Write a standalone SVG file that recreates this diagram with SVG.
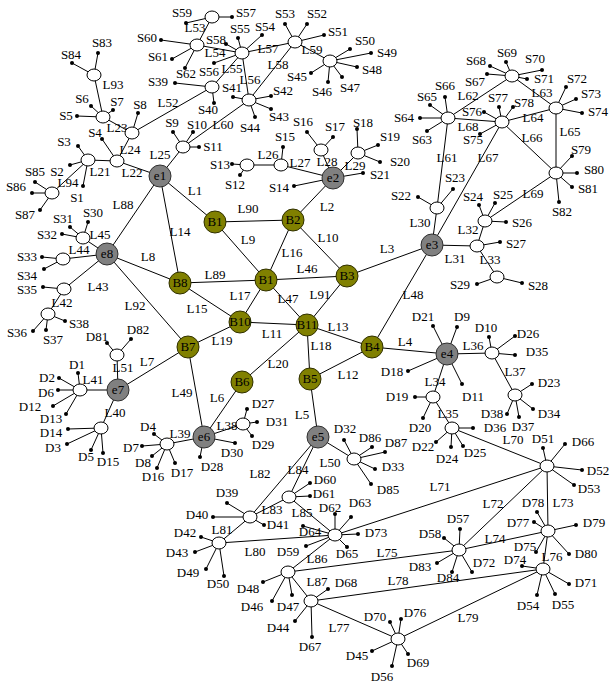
<svg xmlns="http://www.w3.org/2000/svg" width="612" height="686" viewBox="0 0 612 686">
<style>
text{font-family:"Liberation Serif","Times New Roman",serif;font-size:13px;fill:#000;text-anchor:middle}
#connectors line{stroke:#000;stroke-width:1}
.h{fill:#fff;stroke:#000;stroke-width:1}
.d{fill:#000}
.e{fill:#808080;stroke:#303030;stroke-width:1}
.b{fill:#808000;stroke:#303000;stroke-width:1}
</style>
<rect width="612" height="686" fill="#fff"/>
<g id="connectors">
<line x1="160" y1="176" x2="215" y2="222"/><line x1="293" y1="220" x2="333" y2="178"/><line x1="347" y1="276" x2="432" y2="245"/><line x1="372" y1="347" x2="447" y2="354"/><line x1="310" y1="379" x2="318" y2="437"/><line x1="242" y1="382" x2="204" y2="437"/><line x1="188" y1="347" x2="118" y2="390"/><line x1="107" y1="254" x2="180" y2="283"/><line x1="215" y1="222" x2="266" y2="280"/><line x1="293" y1="220" x2="347" y2="276"/><line x1="240" y1="322" x2="307" y2="325"/><line x1="310" y1="379" x2="372" y2="347"/><line x1="307" y1="325" x2="372" y2="347"/><line x1="160" y1="176" x2="180" y2="283"/><line x1="180" y1="283" x2="240" y2="322"/><line x1="293" y1="220" x2="266" y2="280"/><line x1="266" y1="280" x2="240" y2="322"/><line x1="307" y1="325" x2="310" y2="379"/><line x1="240" y1="322" x2="188" y2="347"/><line x1="242" y1="382" x2="307" y2="325"/><line x1="266" y1="280" x2="347" y2="276"/><line x1="266" y1="280" x2="307" y2="325"/><line x1="372" y1="347" x2="432" y2="245"/><line x1="188" y1="347" x2="204" y2="437"/><line x1="160" y1="176" x2="107" y2="254"/><line x1="180" y1="283" x2="266" y2="280"/><line x1="215" y1="222" x2="293" y2="220"/><line x1="307" y1="325" x2="347" y2="276"/><line x1="107" y1="254" x2="188" y2="347"/>
<line x1="88" y1="160" x2="117" y2="161"/><line x1="117" y1="161" x2="160" y2="176"/><line x1="103" y1="117" x2="132" y2="133"/><line x1="117" y1="161" x2="132" y2="133"/><line x1="160" y1="176" x2="183" y2="147"/><line x1="247" y1="165" x2="281" y2="165"/><line x1="281" y1="165" x2="333" y2="178"/><line x1="321" y1="150" x2="333" y2="178"/><line x1="358" y1="153" x2="333" y2="178"/><line x1="437" y1="208" x2="432" y2="245"/><line x1="432" y1="245" x2="477" y2="246"/><line x1="477" y1="246" x2="485" y2="221"/><line x1="477" y1="246" x2="497" y2="277"/><line x1="447" y1="354" x2="433" y2="397"/><line x1="433" y1="397" x2="452" y2="428"/><line x1="447" y1="354" x2="492" y2="353"/><line x1="492" y1="353" x2="515" y2="395"/><line x1="204" y1="437" x2="243" y2="424"/><line x1="167" y1="444" x2="204" y2="437"/><line x1="118" y1="390" x2="101" y2="428"/><line x1="80" y1="390" x2="118" y2="390"/><line x1="64" y1="289" x2="48" y2="314"/><line x1="107" y1="254" x2="64" y2="289"/><line x1="63" y1="259" x2="107" y2="254"/><line x1="83" y1="238" x2="107" y2="254"/><line x1="318" y1="437" x2="354" y2="459"/><line x1="117" y1="355" x2="118" y2="390"/><line x1="132" y1="133" x2="212" y2="87"/><line x1="197" y1="45" x2="212" y2="17"/><line x1="197" y1="45" x2="242" y2="53"/><line x1="212" y1="87" x2="242" y2="53"/><line x1="249" y1="100" x2="242" y2="53"/><line x1="242" y1="53" x2="295" y2="42"/><line x1="295" y1="42" x2="249" y2="100"/><line x1="295" y1="42" x2="330" y2="61"/><line x1="183" y1="147" x2="249" y2="100"/><line x1="448" y1="118" x2="437" y2="208"/><line x1="448" y1="118" x2="512" y2="76"/><line x1="512" y1="76" x2="556" y2="108"/><line x1="502" y1="122" x2="556" y2="108"/><line x1="556" y1="108" x2="556" y2="173"/><line x1="502" y1="122" x2="556" y2="173"/><line x1="502" y1="122" x2="432" y2="245"/><line x1="448" y1="118" x2="502" y2="122"/><line x1="485" y1="221" x2="556" y2="173"/><line x1="452" y1="428" x2="547" y2="466"/><line x1="547" y1="466" x2="335" y2="535"/><line x1="547" y1="466" x2="459" y2="550"/><line x1="547" y1="466" x2="548" y2="531"/><line x1="459" y1="550" x2="548" y2="531"/><line x1="459" y1="550" x2="288" y2="572"/><line x1="548" y1="531" x2="543" y2="569"/><line x1="311" y1="601" x2="398" y2="639"/><line x1="311" y1="601" x2="543" y2="569"/><line x1="398" y1="639" x2="543" y2="569"/><line x1="219" y1="543" x2="335" y2="535"/><line x1="219" y1="543" x2="250" y2="517"/><line x1="250" y1="517" x2="318" y2="437"/><line x1="250" y1="517" x2="289" y2="497"/><line x1="289" y1="497" x2="318" y2="437"/><line x1="289" y1="497" x2="335" y2="535"/><line x1="288" y1="572" x2="335" y2="535"/><line x1="288" y1="572" x2="311" y2="601"/><line x1="94" y1="75" x2="103" y2="117"/><line x1="52" y1="193" x2="88" y2="160"/>
<line x1="94" y1="75" x2="98" y2="53"/><line x1="94" y1="75" x2="72" y2="63"/><line x1="103" y1="117" x2="77" y2="116"/><line x1="103" y1="117" x2="91" y2="106"/><line x1="103" y1="117" x2="113" y2="110"/><line x1="132" y1="133" x2="138" y2="113"/><line x1="117" y1="161" x2="102" y2="139"/><line x1="88" y1="160" x2="83" y2="186"/><line x1="88" y1="160" x2="70" y2="165"/><line x1="88" y1="160" x2="78" y2="146"/><line x1="52" y1="193" x2="35" y2="182"/><line x1="52" y1="193" x2="32" y2="193"/><line x1="52" y1="193" x2="40" y2="210"/>
<line x1="212" y1="17" x2="232" y2="17"/><line x1="212" y1="17" x2="186" y2="23"/><line x1="197" y1="45" x2="161" y2="40"/><line x1="197" y1="45" x2="172" y2="59"/><line x1="197" y1="45" x2="185" y2="68"/><line x1="242" y1="53" x2="238" y2="38"/><line x1="242" y1="53" x2="262" y2="35"/><line x1="242" y1="53" x2="226" y2="44"/><line x1="242" y1="53" x2="214" y2="63"/><line x1="212" y1="87" x2="175" y2="83"/><line x1="212" y1="87" x2="214" y2="103"/><line x1="249" y1="100" x2="233" y2="97"/><line x1="249" y1="100" x2="271" y2="96"/><line x1="249" y1="100" x2="271" y2="109"/><line x1="249" y1="100" x2="255" y2="117"/><line x1="295" y1="42" x2="285" y2="24"/><line x1="295" y1="42" x2="307" y2="24"/><line x1="295" y1="42" x2="324" y2="35"/><line x1="330" y1="61" x2="350" y2="49"/><line x1="330" y1="61" x2="371" y2="53"/><line x1="330" y1="61" x2="357" y2="67"/><line x1="330" y1="61" x2="342" y2="77"/><line x1="330" y1="61" x2="328" y2="82"/><line x1="330" y1="61" x2="311" y2="73"/><line x1="183" y1="147" x2="173" y2="132"/><line x1="183" y1="147" x2="193" y2="132"/><line x1="183" y1="147" x2="199" y2="147"/><line x1="247" y1="165" x2="232" y2="164"/><line x1="247" y1="165" x2="240" y2="175"/><line x1="281" y1="165" x2="283" y2="147"/><line x1="321" y1="150" x2="307" y2="132"/><line x1="321" y1="150" x2="333" y2="137"/><line x1="358" y1="153" x2="357" y2="129"/><line x1="358" y1="153" x2="378" y2="145"/><line x1="358" y1="153" x2="380" y2="162"/><line x1="333" y1="178" x2="294" y2="186"/><line x1="333" y1="178" x2="363" y2="173"/>
<line x1="512" y1="76" x2="487" y2="74"/><line x1="512" y1="76" x2="490" y2="66"/><line x1="512" y1="76" x2="506" y2="62"/><line x1="512" y1="76" x2="542" y2="70"/><line x1="512" y1="76" x2="527" y2="79"/><line x1="448" y1="118" x2="445" y2="97"/><line x1="448" y1="118" x2="430" y2="105"/><line x1="448" y1="118" x2="420" y2="118"/><line x1="448" y1="118" x2="427" y2="131"/><line x1="502" y1="122" x2="484" y2="112"/><line x1="502" y1="122" x2="499" y2="107"/><line x1="502" y1="122" x2="513" y2="107"/><line x1="502" y1="122" x2="480" y2="134"/><line x1="556" y1="108" x2="566" y2="87"/><line x1="556" y1="108" x2="576" y2="99"/><line x1="556" y1="108" x2="582" y2="113"/><line x1="556" y1="173" x2="572" y2="156"/><line x1="556" y1="173" x2="577" y2="173"/><line x1="556" y1="173" x2="572" y2="187"/><line x1="556" y1="173" x2="559" y2="202"/><line x1="437" y1="208" x2="418" y2="197"/><line x1="437" y1="208" x2="453" y2="189"/><line x1="477" y1="246" x2="500" y2="242"/><line x1="485" y1="221" x2="479" y2="205"/><line x1="485" y1="221" x2="495" y2="203"/><line x1="485" y1="221" x2="506" y2="222"/><line x1="497" y1="277" x2="477" y2="284"/><line x1="497" y1="277" x2="522" y2="283"/>
<line x1="83" y1="238" x2="88" y2="222"/><line x1="83" y1="238" x2="70" y2="227"/><line x1="83" y1="238" x2="62" y2="234"/><line x1="63" y1="259" x2="42" y2="257"/><line x1="63" y1="259" x2="44" y2="269"/><line x1="64" y1="289" x2="43" y2="287"/><line x1="48" y1="314" x2="33" y2="331"/><line x1="48" y1="314" x2="46" y2="330"/><line x1="48" y1="314" x2="65" y2="321"/>
<line x1="117" y1="355" x2="107" y2="343"/><line x1="117" y1="355" x2="131" y2="339"/><line x1="80" y1="390" x2="78" y2="373"/><line x1="80" y1="390" x2="59" y2="378"/><line x1="80" y1="390" x2="58" y2="390"/><line x1="80" y1="390" x2="53" y2="406"/><line x1="80" y1="390" x2="66" y2="414"/><line x1="101" y1="428" x2="68" y2="429"/><line x1="101" y1="428" x2="67" y2="444"/><line x1="101" y1="428" x2="91" y2="450"/><line x1="101" y1="428" x2="103" y2="453"/><line x1="167" y1="444" x2="154" y2="434"/><line x1="167" y1="444" x2="142" y2="446"/><line x1="167" y1="444" x2="152" y2="456"/><line x1="167" y1="444" x2="157" y2="468"/><line x1="167" y1="444" x2="175" y2="463"/><line x1="204" y1="437" x2="200" y2="457"/><line x1="204" y1="437" x2="235" y2="443"/><line x1="243" y1="424" x2="247" y2="409"/><line x1="243" y1="424" x2="257" y2="422"/><line x1="243" y1="424" x2="252" y2="436"/>
<line x1="447" y1="354" x2="433" y2="326"/><line x1="447" y1="354" x2="457" y2="327"/><line x1="447" y1="354" x2="408" y2="371"/><line x1="447" y1="354" x2="462" y2="384"/><line x1="492" y1="353" x2="489" y2="337"/><line x1="492" y1="353" x2="515" y2="336"/><line x1="492" y1="353" x2="515" y2="355"/><line x1="515" y1="395" x2="532" y2="384"/><line x1="515" y1="395" x2="533" y2="409"/><line x1="515" y1="395" x2="519" y2="417"/><line x1="515" y1="395" x2="507" y2="414"/><line x1="433" y1="397" x2="415" y2="397"/><line x1="433" y1="397" x2="423" y2="418"/><line x1="452" y1="428" x2="473" y2="428"/><line x1="452" y1="428" x2="436" y2="442"/><line x1="452" y1="428" x2="451" y2="447"/><line x1="452" y1="428" x2="463" y2="446"/><line x1="547" y1="466" x2="543" y2="448"/><line x1="547" y1="466" x2="565" y2="444"/><line x1="547" y1="466" x2="582" y2="470"/><line x1="547" y1="466" x2="574" y2="485"/>
<line x1="354" y1="459" x2="344" y2="440"/><line x1="354" y1="459" x2="372" y2="447"/><line x1="354" y1="459" x2="385" y2="452"/><line x1="354" y1="459" x2="375" y2="469"/><line x1="354" y1="459" x2="371" y2="484"/><line x1="289" y1="497" x2="310" y2="483"/><line x1="289" y1="497" x2="310" y2="496"/><line x1="250" y1="517" x2="227" y2="503"/><line x1="250" y1="517" x2="213" y2="517"/><line x1="250" y1="517" x2="264" y2="525"/><line x1="219" y1="543" x2="201" y2="537"/><line x1="219" y1="543" x2="195" y2="552"/><line x1="219" y1="543" x2="206" y2="569"/><line x1="219" y1="543" x2="224" y2="576"/><line x1="335" y1="535" x2="335" y2="514"/><line x1="335" y1="535" x2="351" y2="517"/><line x1="335" y1="535" x2="303" y2="526"/><line x1="335" y1="535" x2="306" y2="546"/><line x1="335" y1="535" x2="347" y2="547"/><line x1="335" y1="535" x2="358" y2="534"/><line x1="288" y1="572" x2="263" y2="582"/><line x1="288" y1="572" x2="272" y2="601"/><line x1="288" y1="572" x2="292" y2="595"/><line x1="311" y1="601" x2="328" y2="589"/><line x1="311" y1="601" x2="295" y2="621"/><line x1="311" y1="601" x2="312" y2="637"/><line x1="398" y1="639" x2="390" y2="622"/><line x1="398" y1="639" x2="401" y2="619"/><line x1="398" y1="639" x2="372" y2="651"/><line x1="398" y1="639" x2="408" y2="654"/><line x1="398" y1="639" x2="392" y2="666"/><line x1="459" y1="550" x2="460" y2="529"/><line x1="459" y1="550" x2="444" y2="538"/><line x1="459" y1="550" x2="437" y2="563"/><line x1="459" y1="550" x2="452" y2="572"/><line x1="459" y1="550" x2="472" y2="572"/><line x1="548" y1="531" x2="534" y2="522"/><line x1="548" y1="531" x2="537" y2="512"/><line x1="548" y1="531" x2="576" y2="525"/><line x1="548" y1="531" x2="536" y2="552"/><line x1="548" y1="531" x2="569" y2="554"/><line x1="543" y1="569" x2="522" y2="566"/><line x1="543" y1="569" x2="569" y2="584"/><line x1="543" y1="569" x2="537" y2="595"/><line x1="543" y1="569" x2="555" y2="594"/>
<text x="195" y="195">L1</text><text x="327" y="211">L2</text><text x="387" y="253">L3</text><text x="405" y="346">L4</text><text x="302" y="419">L5</text><text x="217" y="402">L6</text><text x="147" y="366">L7</text><text x="148" y="261">L8</text><text x="248" y="244">L9</text><text x="328" y="242">L10</text><text x="272" y="338">L11</text><text x="348" y="379">L12</text><text x="338" y="331">L13</text><text x="180" y="236">L14</text><text x="197" y="313">L15</text><text x="292" y="257">L16</text><text x="240" y="300">L17</text><text x="321" y="350">L18</text><text x="222" y="345">L19</text><text x="278" y="368">L20</text><text x="100" y="176">L21</text><text x="132" y="177">L22</text><text x="117" y="132">L23</text><text x="130" y="154">L24</text><text x="160" y="159">L25</text><text x="268" y="159">L26</text><text x="300" y="167">L27</text><text x="327" y="166">L28</text><text x="355" y="170">L29</text><text x="420" y="227">L30</text><text x="455" y="263">L31</text><text x="468" y="234">L32</text><text x="490" y="264">L33</text><text x="435" y="386">L34</text><text x="448" y="418">L35</text><text x="473" y="350">L36</text><text x="515" y="376">L37</text><text x="227" y="430">L38</text><text x="180" y="438">L39</text><text x="115" y="417">L40</text><text x="93" y="384">L41</text><text x="62" y="307">L42</text><text x="98" y="291">L43</text><text x="79" y="254">L44</text><text x="100" y="239">L45</text><text x="307" y="273">L46</text><text x="288" y="303">L47</text><text x="413" y="299">L48</text><text x="182" y="397">L49</text><text x="330" y="467">L50</text><text x="123" y="372">L51</text><text x="168" y="107">L52</text><text x="195" y="32">L53</text><text x="215" y="57">L54</text><text x="232" y="73">L55</text><text x="250" y="84">L56</text><text x="268" y="53">L57</text><text x="278" y="69">L58</text><text x="312" y="54">L59</text><text x="223" y="129">L60</text><text x="447" y="162">L61</text><text x="468" y="100">L62</text><text x="542" y="97">L63</text><text x="533" y="122">L64</text><text x="570" y="136">L65</text><text x="532" y="142">L66</text><text x="488" y="162">L67</text><text x="468" y="131">L68</text><text x="533" y="198">L69</text><text x="513" y="444">L70</text><text x="440" y="491">L71</text><text x="493" y="508">L72</text><text x="563" y="507">L73</text><text x="495" y="543">L74</text><text x="387" y="557">L75</text><text x="552" y="561">L76</text><text x="339" y="632">L77</text><text x="398" y="585">L78</text><text x="468" y="622">L79</text><text x="255" y="556">L80</text><text x="222" y="534">L81</text><text x="260" y="478">L82</text><text x="272" y="514">L83</text><text x="298" y="474">L84</text><text x="302" y="517">L85</text><text x="317" y="563">L86</text><text x="317" y="586">L87</text><text x="123" y="209">L88</text><text x="215" y="279">L89</text><text x="248" y="213">L90</text><text x="320" y="299">L91</text><text x="135" y="310">L92</text><text x="113" y="89">L93</text><text x="68" y="187">L94</text>
</g>
<g id="e1"><circle class="e" cx="160" cy="176" r="11"/><text x="160" y="180">e1</text></g>
<g id="e2"><circle class="e" cx="333" cy="178" r="11"/><text x="333" y="182">e2</text></g>
<g id="e3"><circle class="e" cx="432" cy="245" r="11"/><text x="432" y="249">e3</text></g>
<g id="e4"><circle class="e" cx="447" cy="354" r="11"/><text x="447" y="358">e4</text></g>
<g id="e5"><circle class="e" cx="318" cy="437" r="11"/><text x="318" y="441">e5</text></g>
<g id="e6"><circle class="e" cx="204" cy="437" r="11"/><text x="204" y="441">e6</text></g>
<g id="e7"><circle class="e" cx="118" cy="390" r="11"/><text x="118" y="394">e7</text></g>
<g id="e8"><circle class="e" cx="107" cy="254" r="11"/><text x="107" y="258">e8</text></g>
<g id="B1-top"><circle class="b" cx="215" cy="222" r="11"/><text x="215" y="226">B1</text></g>
<g id="B2"><circle class="b" cx="293" cy="220" r="11"/><text x="293" y="224">B2</text></g>
<g id="B3"><circle class="b" cx="347" cy="276" r="11"/><text x="347" y="280">B3</text></g>
<g id="B1-mid"><circle class="b" cx="266" cy="280" r="11"/><text x="266" y="284">B1</text></g>
<g id="B8"><circle class="b" cx="180" cy="283" r="11"/><text x="180" y="287">B8</text></g>
<g id="B10"><circle class="b" cx="240" cy="322" r="11"/><text x="240" y="326">B10</text></g>
<g id="B11"><circle class="b" cx="307" cy="325" r="11"/><text x="307" y="329">B11</text></g>
<g id="B4"><circle class="b" cx="372" cy="347" r="11"/><text x="372" y="351">B4</text></g>
<g id="B5"><circle class="b" cx="310" cy="379" r="11"/><text x="310" y="383">B5</text></g>
<g id="B6"><circle class="b" cx="242" cy="382" r="11"/><text x="242" y="386">B6</text></g>
<g id="B7"><circle class="b" cx="188" cy="347" r="11"/><text x="188" y="351">B7</text></g>
<g id="hubs">
<ellipse id="n1" class="h" cx="94" cy="75" rx="7" ry="6"/><ellipse id="n2" class="h" cx="103" cy="117" rx="7" ry="6"/><ellipse id="n3" class="h" cx="132" cy="133" rx="7" ry="6"/><ellipse id="n4" class="h" cx="117" cy="161" rx="7" ry="6"/><ellipse id="n5" class="h" cx="88" cy="160" rx="7" ry="6"/><ellipse id="n6" class="h" cx="52" cy="193" rx="7" ry="6"/><ellipse id="n7" class="h" cx="212" cy="17" rx="7" ry="6"/><ellipse id="n8" class="h" cx="197" cy="45" rx="7" ry="6"/><ellipse id="n9" class="h" cx="242" cy="53" rx="7" ry="6"/><ellipse id="n10" class="h" cx="212" cy="87" rx="7" ry="6"/><ellipse id="n11" class="h" cx="249" cy="100" rx="7" ry="6"/><ellipse id="n12" class="h" cx="295" cy="42" rx="7" ry="6"/><ellipse id="n13" class="h" cx="330" cy="61" rx="7" ry="6"/><ellipse id="n14" class="h" cx="183" cy="147" rx="7" ry="6"/><ellipse id="n15" class="h" cx="247" cy="165" rx="7" ry="6"/><ellipse id="n16" class="h" cx="281" cy="165" rx="7" ry="6"/><ellipse id="n17" class="h" cx="321" cy="150" rx="7" ry="6"/><ellipse id="n18" class="h" cx="358" cy="153" rx="7" ry="6"/><ellipse id="n19" class="h" cx="512" cy="76" rx="7" ry="6"/><ellipse id="n20" class="h" cx="448" cy="118" rx="7" ry="6"/><ellipse id="n21" class="h" cx="502" cy="122" rx="7" ry="6"/><ellipse id="n22" class="h" cx="556" cy="108" rx="7" ry="6"/><ellipse id="n23" class="h" cx="556" cy="173" rx="7" ry="6"/><ellipse id="n24" class="h" cx="437" cy="208" rx="7" ry="6"/><ellipse id="n25" class="h" cx="477" cy="246" rx="7" ry="6"/><ellipse id="n26" class="h" cx="485" cy="221" rx="7" ry="6"/><ellipse id="n27" class="h" cx="497" cy="277" rx="7" ry="6"/><ellipse id="n28" class="h" cx="83" cy="238" rx="7" ry="6"/><ellipse id="n29" class="h" cx="63" cy="259" rx="7" ry="6"/><ellipse id="n30" class="h" cx="64" cy="289" rx="7" ry="6"/><ellipse id="n31" class="h" cx="48" cy="314" rx="7" ry="6"/><ellipse id="n32" class="h" cx="117" cy="355" rx="7" ry="6"/><ellipse id="n33" class="h" cx="80" cy="390" rx="7" ry="6"/><ellipse id="n34" class="h" cx="101" cy="428" rx="7" ry="6"/><ellipse id="n35" class="h" cx="167" cy="444" rx="7" ry="6"/><ellipse id="n36" class="h" cx="243" cy="424" rx="7" ry="6"/><ellipse id="n37" class="h" cx="492" cy="353" rx="7" ry="6"/><ellipse id="n38" class="h" cx="515" cy="395" rx="7" ry="6"/><ellipse id="n39" class="h" cx="433" cy="397" rx="7" ry="6"/><ellipse id="n40" class="h" cx="452" cy="428" rx="7" ry="6"/><ellipse id="n41" class="h" cx="547" cy="466" rx="7" ry="6"/><ellipse id="n42" class="h" cx="354" cy="459" rx="7" ry="6"/><ellipse id="n43" class="h" cx="289" cy="497" rx="7" ry="6"/><ellipse id="n44" class="h" cx="250" cy="517" rx="7" ry="6"/><ellipse id="n45" class="h" cx="219" cy="543" rx="7" ry="6"/><ellipse id="n46" class="h" cx="335" cy="535" rx="7" ry="6"/><ellipse id="n47" class="h" cx="288" cy="572" rx="7" ry="6"/><ellipse id="n48" class="h" cx="311" cy="601" rx="7" ry="6"/><ellipse id="n49" class="h" cx="398" cy="639" rx="7" ry="6"/><ellipse id="n50" class="h" cx="459" cy="550" rx="7" ry="6"/><ellipse id="n51" class="h" cx="548" cy="531" rx="7" ry="6"/><ellipse id="n52" class="h" cx="543" cy="569" rx="7" ry="6"/>
</g>
<g id="S83"><circle class="d" cx="98" cy="53" r="2"/><text x="102" y="47">S83</text></g>
<g id="S84"><circle class="d" cx="72" cy="63" r="2"/><text x="71" y="59">S84</text></g>
<g id="S5"><circle class="d" cx="77" cy="116" r="2"/><text x="66" y="120">S5</text></g>
<g id="S6"><circle class="d" cx="91" cy="106" r="2"/><text x="82" y="103">S6</text></g>
<g id="S7"><circle class="d" cx="113" cy="110" r="2"/><text x="117" y="106">S7</text></g>
<g id="S8"><circle class="d" cx="138" cy="113" r="2"/><text x="140" y="109">S8</text></g>
<g id="S4"><circle class="d" cx="102" cy="139" r="2"/><text x="95" y="137">S4</text></g>
<g id="S1"><circle class="d" cx="83" cy="186" r="2"/><text x="77" y="202">S1</text></g>
<g id="S2"><circle class="d" cx="70" cy="165" r="2"/><text x="57" y="176">S2</text></g>
<g id="S3"><circle class="d" cx="78" cy="146" r="2"/><text x="64" y="146">S3</text></g>
<g id="S85"><circle class="d" cx="35" cy="182" r="2"/><text x="35" y="176">S85</text></g>
<g id="S86"><circle class="d" cx="32" cy="193" r="2"/><text x="16" y="191">S86</text></g>
<g id="S87"><circle class="d" cx="40" cy="210" r="2"/><text x="25" y="219">S87</text></g>
<g id="S57"><circle class="d" cx="232" cy="17" r="2"/><text x="246" y="17">S57</text></g>
<g id="S59"><circle class="d" cx="186" cy="23" r="2"/><text x="182" y="17">S59</text></g>
<g id="S60"><circle class="d" cx="161" cy="40" r="2"/><text x="147" y="42">S60</text></g>
<g id="S61"><circle class="d" cx="172" cy="59" r="2"/><text x="158" y="61">S61</text></g>
<g id="S62"><circle class="d" cx="185" cy="68" r="2"/><text x="186" y="78">S62</text></g>
<g id="S55"><circle class="d" cx="238" cy="38" r="2"/><text x="240" y="33">S55</text></g>
<g id="S54"><circle class="d" cx="262" cy="35" r="2"/><text x="265" y="31">S54</text></g>
<g id="S58"><circle class="d" cx="226" cy="44" r="2"/><text x="216" y="44">S58</text></g>
<g id="S56"><circle class="d" cx="214" cy="63" r="2"/><text x="209" y="76">S56</text></g>
<g id="S39"><circle class="d" cx="175" cy="83" r="2"/><text x="158" y="86">S39</text></g>
<g id="S40"><circle class="d" cx="214" cy="103" r="2"/><text x="208" y="114">S40</text></g>
<g id="S41"><circle class="d" cx="233" cy="97" r="2"/><text x="232" y="92">S41</text></g>
<g id="S42"><circle class="d" cx="271" cy="96" r="2"/><text x="283" y="95">S42</text></g>
<g id="S43"><circle class="d" cx="271" cy="109" r="2"/><text x="279" y="121">S43</text></g>
<g id="S44"><circle class="d" cx="255" cy="117" r="2"/><text x="250" y="132">S44</text></g>
<g id="S53"><circle class="d" cx="285" cy="24" r="2"/><text x="285" y="18">S53</text></g>
<g id="S52"><circle class="d" cx="307" cy="24" r="2"/><text x="317" y="18">S52</text></g>
<g id="S51"><circle class="d" cx="324" cy="35" r="2"/><text x="338" y="36">S51</text></g>
<g id="S50"><circle class="d" cx="350" cy="49" r="2"/><text x="365" y="45">S50</text></g>
<g id="S49"><circle class="d" cx="371" cy="53" r="2"/><text x="387" y="57">S49</text></g>
<g id="S48"><circle class="d" cx="357" cy="67" r="2"/><text x="372" y="74">S48</text></g>
<g id="S47"><circle class="d" cx="342" cy="77" r="2"/><text x="350" y="92">S47</text></g>
<g id="S46"><circle class="d" cx="328" cy="82" r="2"/><text x="322" y="96">S46</text></g>
<g id="S45"><circle class="d" cx="311" cy="73" r="2"/><text x="297" y="81">S45</text></g>
<g id="S9"><circle class="d" cx="173" cy="132" r="2"/><text x="172" y="127">S9</text></g>
<g id="S10"><circle class="d" cx="193" cy="132" r="2"/><text x="197" y="129">S10</text></g>
<g id="S11"><circle class="d" cx="199" cy="147" r="2"/><text x="213" y="151">S11</text></g>
<g id="S13"><circle class="d" cx="232" cy="164" r="2"/><text x="220" y="169">S13</text></g>
<g id="S12"><circle class="d" cx="240" cy="175" r="2"/><text x="235" y="189">S12</text></g>
<g id="S15"><circle class="d" cx="283" cy="147" r="2"/><text x="285" y="141">S15</text></g>
<g id="S16"><circle class="d" cx="307" cy="132" r="2"/><text x="303" y="126">S16</text></g>
<g id="S17"><circle class="d" cx="333" cy="137" r="2"/><text x="335" y="131">S17</text></g>
<g id="S18"><circle class="d" cx="357" cy="129" r="2"/><text x="363" y="127">S18</text></g>
<g id="S19"><circle class="d" cx="378" cy="145" r="2"/><text x="390" y="141">S19</text></g>
<g id="S20"><circle class="d" cx="380" cy="162" r="2"/><text x="400" y="166">S20</text></g>
<g id="S14"><circle class="d" cx="294" cy="186" r="2"/><text x="279" y="192">S14</text></g>
<g id="S21"><circle class="d" cx="363" cy="173" r="2"/><text x="380" y="179">S21</text></g>
<g id="S67"><circle class="d" cx="487" cy="74" r="2"/><text x="475" y="86">S67</text></g>
<g id="S68"><circle class="d" cx="490" cy="66" r="2"/><text x="476" y="65">S68</text></g>
<g id="S69"><circle class="d" cx="506" cy="62" r="2"/><text x="507" y="57">S69</text></g>
<g id="S70"><circle class="d" cx="542" cy="70" r="2"/><text x="535" y="63">S70</text></g>
<g id="S71"><circle class="d" cx="527" cy="79" r="2"/><text x="544" y="83">S71</text></g>
<g id="S66"><circle class="d" cx="445" cy="97" r="2"/><text x="445" y="90">S66</text></g>
<g id="S65"><circle class="d" cx="430" cy="105" r="2"/><text x="427" y="101">S65</text></g>
<g id="S64"><circle class="d" cx="420" cy="118" r="2"/><text x="404" y="122">S64</text></g>
<g id="S63"><circle class="d" cx="427" cy="131" r="2"/><text x="422" y="144">S63</text></g>
<g id="S76"><circle class="d" cx="484" cy="112" r="2"/><text x="472" y="116">S76</text></g>
<g id="S77"><circle class="d" cx="499" cy="107" r="2"/><text x="498" y="102">S77</text></g>
<g id="S78"><circle class="d" cx="513" cy="107" r="2"/><text x="524" y="107">S78</text></g>
<g id="S75"><circle class="d" cx="480" cy="134" r="2"/><text x="473" y="144">S75</text></g>
<g id="S72"><circle class="d" cx="566" cy="87" r="2"/><text x="577" y="83">S72</text></g>
<g id="S73"><circle class="d" cx="576" cy="99" r="2"/><text x="591" y="98">S73</text></g>
<g id="S74"><circle class="d" cx="582" cy="113" r="2"/><text x="598" y="116">S74</text></g>
<g id="S79"><circle class="d" cx="572" cy="156" r="2"/><text x="581" y="154">S79</text></g>
<g id="S80"><circle class="d" cx="577" cy="173" r="2"/><text x="594" y="174">S80</text></g>
<g id="S81"><circle class="d" cx="572" cy="187" r="2"/><text x="588" y="193">S81</text></g>
<g id="S82"><circle class="d" cx="559" cy="202" r="2"/><text x="562" y="216">S82</text></g>
<g id="S22"><circle class="d" cx="418" cy="197" r="2"/><text x="401" y="200">S22</text></g>
<g id="S23"><circle class="d" cx="453" cy="189" r="2"/><text x="455" y="182">S23</text></g>
<g id="S27"><circle class="d" cx="500" cy="242" r="2"/><text x="516" y="248">S27</text></g>
<g id="S24"><circle class="d" cx="479" cy="205" r="2"/><text x="473" y="201">S24</text></g>
<g id="S25"><circle class="d" cx="495" cy="203" r="2"/><text x="503" y="199">S25</text></g>
<g id="S26"><circle class="d" cx="506" cy="222" r="2"/><text x="522" y="227">S26</text></g>
<g id="S29"><circle class="d" cx="477" cy="284" r="2"/><text x="460" y="289">S29</text></g>
<g id="S28"><circle class="d" cx="522" cy="283" r="2"/><text x="538" y="290">S28</text></g>
<g id="S30"><circle class="d" cx="88" cy="222" r="2"/><text x="93" y="217">S30</text></g>
<g id="S31"><circle class="d" cx="70" cy="227" r="2"/><text x="63" y="223">S31</text></g>
<g id="S32"><circle class="d" cx="62" cy="234" r="2"/><text x="47" y="239">S32</text></g>
<g id="S33"><circle class="d" cx="42" cy="257" r="2"/><text x="27" y="261">S33</text></g>
<g id="S34"><circle class="d" cx="44" cy="269" r="2"/><text x="27" y="280">S34</text></g>
<g id="S35"><circle class="d" cx="43" cy="287" r="2"/><text x="27" y="294">S35</text></g>
<g id="S36"><circle class="d" cx="33" cy="331" r="2"/><text x="17" y="337">S36</text></g>
<g id="S37"><circle class="d" cx="46" cy="330" r="2"/><text x="53" y="344">S37</text></g>
<g id="S38"><circle class="d" cx="65" cy="321" r="2"/><text x="79" y="328">S38</text></g>
<g id="D81"><circle class="d" cx="107" cy="343" r="2"/><text x="97" y="341">D81</text></g>
<g id="D82"><circle class="d" cx="131" cy="339" r="2"/><text x="138" y="334">D82</text></g>
<g id="D1"><circle class="d" cx="78" cy="373" r="2"/><text x="77" y="369">D1</text></g>
<g id="D2"><circle class="d" cx="59" cy="378" r="2"/><text x="47" y="382">D2</text></g>
<g id="D6"><circle class="d" cx="58" cy="390" r="2"/><text x="46" y="397">D6</text></g>
<g id="D12"><circle class="d" cx="53" cy="406" r="2"/><text x="30" y="411">D12</text></g>
<g id="D13"><circle class="d" cx="66" cy="414" r="2"/><text x="51" y="423">D13</text></g>
<g id="D14"><circle class="d" cx="68" cy="429" r="2"/><text x="51" y="437">D14</text></g>
<g id="D3"><circle class="d" cx="67" cy="444" r="2"/><text x="53" y="452">D3</text></g>
<g id="D5"><circle class="d" cx="91" cy="450" r="2"/><text x="86" y="461">D5</text></g>
<g id="D15"><circle class="d" cx="103" cy="453" r="2"/><text x="108" y="466">D15</text></g>
<g id="D4"><circle class="d" cx="154" cy="434" r="2"/><text x="148" y="431">D4</text></g>
<g id="D7"><circle class="d" cx="142" cy="446" r="2"/><text x="131" y="452">D7</text></g>
<g id="D8"><circle class="d" cx="152" cy="456" r="2"/><text x="143" y="467">D8</text></g>
<g id="D16"><circle class="d" cx="157" cy="468" r="2"/><text x="153" y="481">D16</text></g>
<g id="D17"><circle class="d" cx="175" cy="463" r="2"/><text x="182" y="477">D17</text></g>
<g id="D28"><circle class="d" cx="200" cy="457" r="2"/><text x="212" y="471">D28</text></g>
<g id="D30"><circle class="d" cx="235" cy="443" r="2"/><text x="232" y="457">D30</text></g>
<g id="D27"><circle class="d" cx="247" cy="409" r="2"/><text x="263" y="408">D27</text></g>
<g id="D31"><circle class="d" cx="257" cy="422" r="2"/><text x="277" y="426">D31</text></g>
<g id="D29"><circle class="d" cx="252" cy="436" r="2"/><text x="263" y="449">D29</text></g>
<g id="D21"><circle class="d" cx="433" cy="326" r="2"/><text x="423" y="321">D21</text></g>
<g id="D9"><circle class="d" cx="457" cy="327" r="2"/><text x="462" y="321">D9</text></g>
<g id="D18"><circle class="d" cx="408" cy="371" r="2"/><text x="392" y="376">D18</text></g>
<g id="D11"><circle class="d" cx="462" cy="384" r="2"/><text x="473" y="401">D11</text></g>
<g id="D10"><circle class="d" cx="489" cy="337" r="2"/><text x="486" y="332">D10</text></g>
<g id="D26"><circle class="d" cx="515" cy="336" r="2"/><text x="528" y="338">D26</text></g>
<g id="D35"><circle class="d" cx="515" cy="355" r="2"/><text x="537" y="356">D35</text></g>
<g id="D23"><circle class="d" cx="532" cy="384" r="2"/><text x="549" y="387">D23</text></g>
<g id="D34"><circle class="d" cx="533" cy="409" r="2"/><text x="549" y="418">D34</text></g>
<g id="D37"><circle class="d" cx="519" cy="417" r="2"/><text x="523" y="431">D37</text></g>
<g id="D38"><circle class="d" cx="507" cy="414" r="2"/><text x="492" y="418">D38</text></g>
<g id="D19"><circle class="d" cx="415" cy="397" r="2"/><text x="397" y="401">D19</text></g>
<g id="D20"><circle class="d" cx="423" cy="418" r="2"/><text x="420" y="432">D20</text></g>
<g id="D36"><circle class="d" cx="473" cy="428" r="2"/><text x="495" y="432">D36</text></g>
<g id="D22"><circle class="d" cx="436" cy="442" r="2"/><text x="423" y="451">D22</text></g>
<g id="D24"><circle class="d" cx="451" cy="447" r="2"/><text x="447" y="463">D24</text></g>
<g id="D25"><circle class="d" cx="463" cy="446" r="2"/><text x="475" y="457">D25</text></g>
<g id="D51"><circle class="d" cx="543" cy="448" r="2"/><text x="543" y="443">D51</text></g>
<g id="D66"><circle class="d" cx="565" cy="444" r="2"/><text x="583" y="446">D66</text></g>
<g id="D52"><circle class="d" cx="582" cy="470" r="2"/><text x="598" y="475">D52</text></g>
<g id="D53"><circle class="d" cx="574" cy="485" r="2"/><text x="589" y="493">D53</text></g>
<g id="D32"><circle class="d" cx="344" cy="440" r="2"/><text x="345" y="433">D32</text></g>
<g id="D86"><circle class="d" cx="372" cy="447" r="2"/><text x="370" y="442">D86</text></g>
<g id="D87"><circle class="d" cx="385" cy="452" r="2"/><text x="396" y="447">D87</text></g>
<g id="D33"><circle class="d" cx="375" cy="469" r="2"/><text x="393" y="471">D33</text></g>
<g id="D85"><circle class="d" cx="371" cy="484" r="2"/><text x="388" y="494">D85</text></g>
<g id="D60"><circle class="d" cx="310" cy="483" r="2"/><text x="325" y="484">D60</text></g>
<g id="D61"><circle class="d" cx="310" cy="496" r="2"/><text x="324" y="498">D61</text></g>
<g id="D39"><circle class="d" cx="227" cy="503" r="2"/><text x="227" y="497">D39</text></g>
<g id="D40"><circle class="d" cx="213" cy="517" r="2"/><text x="197" y="519">D40</text></g>
<g id="D41"><circle class="d" cx="264" cy="525" r="2"/><text x="278" y="529">D41</text></g>
<g id="D42"><circle class="d" cx="201" cy="537" r="2"/><text x="185" y="537">D42</text></g>
<g id="D43"><circle class="d" cx="195" cy="552" r="2"/><text x="177" y="557">D43</text></g>
<g id="D49"><circle class="d" cx="206" cy="569" r="2"/><text x="188" y="577">D49</text></g>
<g id="D50"><circle class="d" cx="224" cy="576" r="2"/><text x="218" y="588">D50</text></g>
<g id="D62"><circle class="d" cx="335" cy="514" r="2"/><text x="330" y="512">D62</text></g>
<g id="D63"><circle class="d" cx="351" cy="517" r="2"/><text x="360" y="507">D63</text></g>
<g id="D64"><circle class="d" cx="303" cy="526" r="2"/><text x="310" y="536">D64</text></g>
<g id="D59"><circle class="d" cx="306" cy="546" r="2"/><text x="288" y="556">D59</text></g>
<g id="D65"><circle class="d" cx="347" cy="547" r="2"/><text x="347" y="558">D65</text></g>
<g id="D73"><circle class="d" cx="358" cy="534" r="2"/><text x="376" y="537">D73</text></g>
<g id="D48"><circle class="d" cx="263" cy="582" r="2"/><text x="248" y="593">D48</text></g>
<g id="D46"><circle class="d" cx="272" cy="601" r="2"/><text x="252" y="611">D46</text></g>
<g id="D47"><circle class="d" cx="292" cy="595" r="2"/><text x="288" y="611">D47</text></g>
<g id="D68"><circle class="d" cx="328" cy="589" r="2"/><text x="346" y="587">D68</text></g>
<g id="D44"><circle class="d" cx="295" cy="621" r="2"/><text x="278" y="632">D44</text></g>
<g id="D67"><circle class="d" cx="312" cy="637" r="2"/><text x="310" y="651">D67</text></g>
<g id="D70"><circle class="d" cx="390" cy="622" r="2"/><text x="375" y="621">D70</text></g>
<g id="D76"><circle class="d" cx="401" cy="619" r="2"/><text x="415" y="617">D76</text></g>
<g id="D45"><circle class="d" cx="372" cy="651" r="2"/><text x="357" y="660">D45</text></g>
<g id="D69"><circle class="d" cx="408" cy="654" r="2"/><text x="418" y="667">D69</text></g>
<g id="D56"><circle class="d" cx="392" cy="666" r="2"/><text x="382" y="681">D56</text></g>
<g id="D57"><circle class="d" cx="460" cy="529" r="2"/><text x="458" y="523">D57</text></g>
<g id="D58"><circle class="d" cx="444" cy="538" r="2"/><text x="430" y="538">D58</text></g>
<g id="D83"><circle class="d" cx="437" cy="563" r="2"/><text x="420" y="571">D83</text></g>
<g id="D84"><circle class="d" cx="452" cy="572" r="2"/><text x="448" y="582">D84</text></g>
<g id="D72"><circle class="d" cx="472" cy="572" r="2"/><text x="484" y="567">D72</text></g>
<g id="D77"><circle class="d" cx="534" cy="522" r="2"/><text x="518" y="527">D77</text></g>
<g id="D78"><circle class="d" cx="537" cy="512" r="2"/><text x="533" y="507">D78</text></g>
<g id="D79"><circle class="d" cx="576" cy="525" r="2"/><text x="594" y="527">D79</text></g>
<g id="D75"><circle class="d" cx="536" cy="552" r="2"/><text x="525" y="551">D75</text></g>
<g id="D80"><circle class="d" cx="569" cy="554" r="2"/><text x="586" y="558">D80</text></g>
<g id="D74"><circle class="d" cx="522" cy="566" r="2"/><text x="515" y="564">D74</text></g>
<g id="D71"><circle class="d" cx="569" cy="584" r="2"/><text x="586" y="587">D71</text></g>
<g id="D54"><circle class="d" cx="537" cy="595" r="2"/><text x="528" y="610">D54</text></g>
<g id="D55"><circle class="d" cx="555" cy="594" r="2"/><text x="563" y="609">D55</text></g>
</svg>
